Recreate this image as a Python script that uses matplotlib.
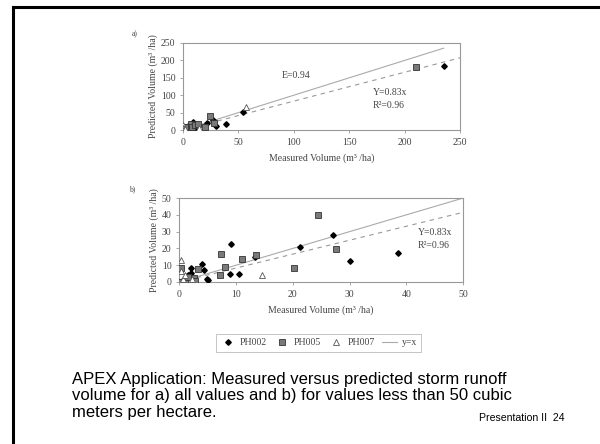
import matplotlib.pyplot as plt
import numpy as np
from matplotlib.lines import Line2D

plt.rcParams['font.family'] = 'Liberation Serif'

# PH002 (diamonds)
ph002_x = [0.1, 0.5, 1.0, 1.6, 2.0, 2.0, 4.06, 4.35, 4.9, 5.0, 8.94, 9.06, 10.5, 13.35, 21.35, 27.06, 30.1, 38.5, 54.5, 235]
ph002_y = [0.2, 0.5, 1.0, 4.0, 5.6, 8.4, 10.6, 7.4, 2.0, 1.0, 5.0, 22.6, 5.0, 14.6, 20.8, 27.8, 12.6, 17.0, 52, 185]
# PH005 (squares)
ph005_x = [0.1, 0.35, 1.0, 1.6, 2.6, 2.8, 3.35, 7.2, 7.3, 8.06, 11.06, 13.6, 20.2, 24.5, 27.6, 210]
ph005_y = [0.0, 8.4, 0.4, 3.0, 2.4, 0.6, 8.0, 4.0, 16.6, 9.2, 13.4, 16.0, 8.4, 40.2, 19.6, 181]
# PH007 (triangles)
ph007_x = [0.35, 0.35, 0.7, 1.0, 2.2, 14.6, 57]
ph007_y = [13.2, 6.4, 2.0, 4.0, 2.0, 4.4, 65]

slope = 0.83
caption_lines = ["APEX Application: Measured versus predicted storm runoff",
                 "volume for a) all values and b) for values less than 50 cubic",
                 "meters per hectare."]

fig = plt.figure(figsize=(6, 4.44), dpi=100)

# slide frame
fig.add_artist(Line2D([13 / 600, 13 / 600], [0, 1 - 7 / 444], color='black', lw=2.2))
fig.add_artist(Line2D([13 / 600, 1], [1 - 7.5 / 444, 1 - 7.5 / 444], color='black', lw=2.2))

tick_col = '#444444'
frame_col = '#999999'
fs = 7


def draw_panel(ax, lim, step, mask_lim, letter, letter_pos, eq_pos, e_pos=None):
    sets = [(ph002_x, ph002_y, dict(marker='D', ms=2.8, mfc='black', mec='black')),
            (ph005_x, ph005_y, dict(marker='s', ms=4.0, mfc='#7a7a7a', mec='#333333', mew=0.6)),
            (ph007_x, ph007_y, dict(marker='^', ms=4.3, mfc='white', mec='#555555', mew=0.6))]
    labels = ['PH002', 'PH005', 'PH007']
    for (xs, ys, st), lab in zip(sets, labels):
        xs = np.array(xs)
        ys = np.array(ys)
        m = (xs < mask_lim) & (ys < mask_lim)
        ax.plot(xs[m], ys[m], ls='none', label=lab, zorder=3, **st)
    xx = np.array([0, lim * 0.94 if lim > 100 else lim])
    ax.plot(xx, xx, color='#aaaaaa', lw=0.8, label='y=x', zorder=2)
    xd = np.array([0, lim])
    ax.plot(xd, slope * xd, color='#999999', lw=0.8, ls=(0, (4, 4)), zorder=2)
    ax.set_xlim(0, lim)
    ax.set_ylim(0, lim)
    ax.set_xticks(np.arange(0, lim + 1, step))
    ax.set_yticks(np.arange(0, lim + 1, step))
    ax.tick_params(labelsize=fs, colors=frame_col, labelcolor=tick_col, length=2, width=0.6)
    for s in ax.spines.values():
        s.set_color(frame_col)
        s.set_linewidth(0.8)
    ax.set_xlabel('Measured Volume (m³ /ha)', fontsize=fs, color=tick_col, labelpad=5)
    ax.set_ylabel('Predicted Volume (m³ /ha)', fontsize=fs, color=tick_col, labelpad=2)
    ax.text(letter_pos[0], letter_pos[1], letter, transform=ax.transAxes, fontsize=5.5,
            color=tick_col, va='center', ha='center')
    ax.text(eq_pos[0], eq_pos[1], 'Y=0.83x\nR²=0.96', fontsize=fs, color=tick_col,
            linespacing=1.5, va='center')
    if e_pos is not None:
        ax.text(e_pos[0], e_pos[1], 'E=0.94', fontsize=fs, color=tick_col, va='center')


ax1 = fig.add_axes([0.305, 0.7072, 0.462, 0.196])
draw_panel(ax1, 250, 50, 1000, 'a)', (-0.175, 1.10), (171, 89), (89, 158))

ax2 = fig.add_axes([0.2988, 0.3649, 0.473, 0.189])
draw_panel(ax2, 50, 10, 50, 'b)', (-0.165, 1.10), (42, 25.5))

leg = ax2.legend(loc='upper center', bbox_to_anchor=(0.49, -0.56), ncol=4, fontsize=fs,
                 frameon=True, fancybox=False, edgecolor='#aaaaaa', handlelength=1.6,
                 columnspacing=0.75, handletextpad=0.4, borderpad=0.45)
leg.get_frame().set_linewidth(0.6)
for t in leg.get_texts():
    t.set_color(tick_col)

for i, line in enumerate(caption_lines):
    fig.text(72 / 600, 1 - (379 + 16.5 * i) / 444, line, fontsize=12,
             family='Liberation Sans', va='center', ha='left')
fig.text(479 / 600, 1 - 418 / 444, 'Presentation II  24', fontsize=7.6, family='Liberation Sans',
         va='center', ha='left')

fig.savefig('out.png', dpi=100)
